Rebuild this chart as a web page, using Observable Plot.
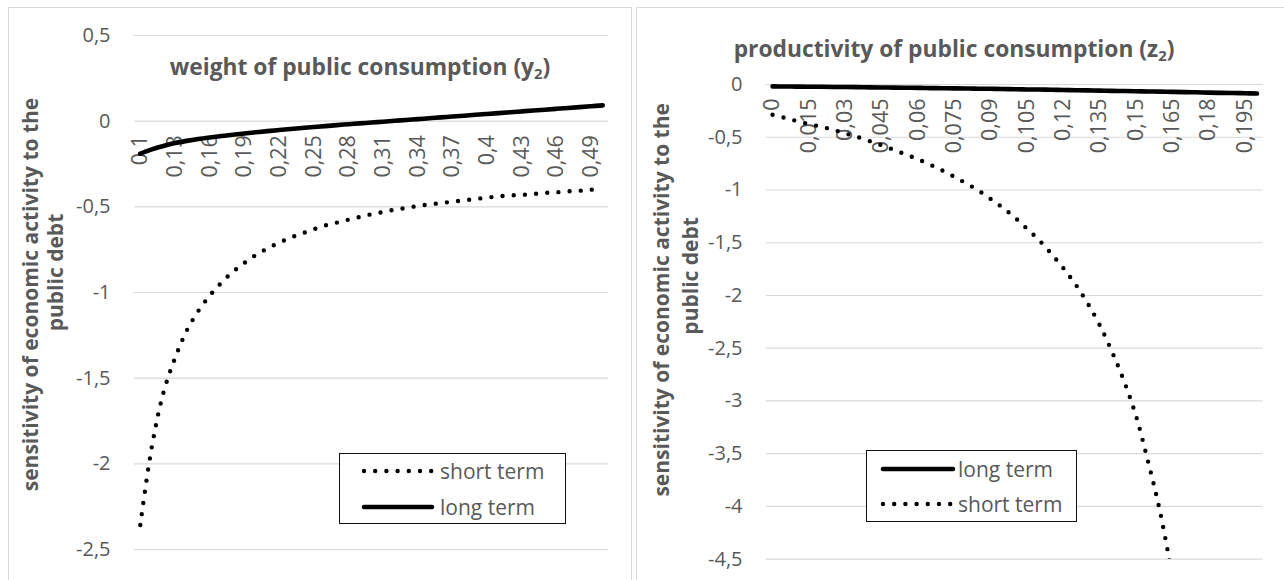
<!DOCTYPE html>
<html><head><meta charset="utf-8">
<script src="https://cdn.jsdelivr.net/npm/d3@7"></script>
<script src="https://cdn.jsdelivr.net/npm/@observablehq/plot@0.6"></script>
<style>
body{margin:0;background:#fff;font-family:"Open Sans",sans-serif;}
#root{position:relative;width:1284px;height:580px;overflow:hidden;background:#fff}
.box{position:absolute;border:1px solid #d9d9d9;box-sizing:border-box}
.title{position:absolute;font-weight:bold;font-size:22.8px;line-height:28px;color:#595959;white-space:nowrap;transform:translateX(-50%)}
.title sub{font-size:0.65em;vertical-align:-0.3em;line-height:0}
.legend{position:absolute;border:1.3px solid #111;background:#fff;box-sizing:border-box}
.legend svg{position:absolute;left:0;top:0;overflow:visible}
.panel{position:absolute;top:0}
</style></head><body><div id="root"></div>
<script>
// ---------- data ----------
const xLeft = [0.10,0.11,0.12,0.13,0.14,0.15,0.16,0.17,0.18,0.19,0.20,0.21,0.22,0.23,0.24,0.25,0.26,0.27,0.28,0.29,0.30,0.31,0.32,0.33,0.34,0.35,0.36,0.37,0.38,0.39,0.40,0.41,0.42,0.43,0.44,0.45,0.46,0.47,0.48,0.49,0.50];
const shortLeft = [-2.357,-1.90,-1.585,-1.384,-1.225,-1.11,-1.019,-0.944,-0.88,-0.828,-0.781,-0.743,-0.709,-0.680,-0.655,-0.631,-0.609,-0.592,-0.575,-0.559,-0.543,-0.530,-0.517,-0.506,-0.495,-0.486,-0.478,-0.470,-0.462,-0.454,-0.446,-0.439,-0.434,-0.430,-0.425,-0.419,-0.415,-0.410,-0.406,-0.400,-0.396];
const longLeft = [-0.19,-0.165,-0.145,-0.128,-0.115,-0.104,-0.095,-0.087,-0.079,-0.072,-0.065,-0.058,-0.052,-0.046,-0.040,-0.034,-0.029,-0.023,-0.018,-0.013,-0.008,-0.003,0.002,0.007,0.012,0.017,0.022,0.027,0.032,0.037,0.042,0.047,0.052,0.057,0.062,0.067,0.072,0.077,0.082,0.087,0.092];
const leftTickValues = [0.10,0.13,0.16,0.19,0.22,0.25,0.28,0.31,0.34,0.37,0.40,0.43,0.46,0.49];
const leftTickLabels = ["0,1","0,13","0,16","0,19","0,22","0,25","0,28","0,31","0,34","0,37","0,4","0,43","0,46","0,49"];
const leftYTicks = [0.5,0,-0.5,-1,-1.5,-2,-2.5];

const xRight = [0,0.005,0.01,0.015,0.02,0.025,0.03,0.035,0.04,0.045,0.05,0.055,0.06,0.065,0.07,0.075,0.08,0.085,0.09,0.095,0.10,0.105,0.11,0.115,0.12,0.125,0.13,0.135,0.14,0.145,0.15,0.155,0.16,0.165,0.17,0.175,0.18,0.185,0.19,0.195,0.20];
const shortRight = [-0.287,-0.316,-0.346,-0.375,-0.400,-0.429,-0.464,-0.497,-0.536,-0.576,-0.618,-0.663,-0.708,-0.759,-0.814,-0.874,-0.938,-1.005,-1.084,-1.167,-1.26,-1.366,-1.474,-1.602,-1.739,-1.892,-2.07,-2.277,-2.525,-2.805,-3.137,-3.57,-4.05,-4.65];
const longRight = [-0.018,-0.019,-0.020,-0.021,-0.022,-0.023,-0.024,-0.025,-0.027,-0.028,-0.030,-0.031,-0.032,-0.034,-0.035,-0.037,-0.038,-0.040,-0.041,-0.043,-0.045,-0.047,-0.048,-0.050,-0.052,-0.054,-0.056,-0.058,-0.060,-0.062,-0.064,-0.066,-0.068,-0.070,-0.072,-0.074,-0.077,-0.079,-0.081,-0.083,-0.086];
const rightTickValues = [0,0.015,0.03,0.045,0.06,0.075,0.09,0.105,0.12,0.135,0.15,0.165,0.18,0.195];
const rightTickLabels = ["0","0,015","0,03","0,045","0,06","0,075","0,09","0,105","0,12","0,135","0,15","0,165","0,18","0,195"];
const rightYTicks = [0,-0.5,-1,-1.5,-2,-2.5,-3,-3.5,-4,-4.5];

const yTitle1 = "sensitivity of economic activity to the";
const yTitle2 = "public debt";
const seriesNames = {short: "short term", long: "long term"};

// ---------- helpers ----------
const GRAY = "#595959";
const fmt = d => String(d).replace(".", ",");
const rows = (xs, vals) => vals.map((v, i) => ({x: xs[i], y: v}));

function panel({xs, shortV, longV, tickVals, tickLabels, yTicks, yDomain, width, height, mL, mR, mT, mB, t1, t2}) {
  return Plot.plot({
    width, height, marginLeft: mL, marginRight: mR, marginTop: mT, marginBottom: mB,
    x: {type: "point", domain: xs, padding: 0.5, align: 0.5, round: false, axis: null},
    y: {domain: yDomain},
    style: {background: "transparent", fontFamily: "Open Sans", overflow: "visible"},
    marks: [
      Plot.ruleY(yTicks, {stroke: "#d9d9d9", strokeWidth: 1.2}),
      Plot.axisY({ticks: yTicks, tickSize: 0, tickPadding: 24, tickFormat: fmt, fontSize: 20, color: GRAY, label: null}),
      Plot.text(tickVals, {x: d => d, y: () => 0, text: (d, i) => tickLabels[i], rotate: -90, textAnchor: "end", dy: 14, fontSize: 21.5, fill: GRAY}),
      Plot.text([yTitle1], {text: d => d, frameAnchor: "middle", rotate: -90, dx: t1[0], dy: t1[1], fontSize: 21, fontWeight: "bold", fill: GRAY}),
      Plot.text([yTitle2], {text: d => d, frameAnchor: "middle", rotate: -90, dx: t2[0], dy: t2[1], fontSize: 21, fontWeight: "bold", fill: GRAY}),
      Plot.line(rows(xs, longV), {x: "x", y: "y", stroke: "#000", strokeWidth: 4.6, strokeLinecap: "round", curve: "catmull-rom", clip: true}),
      Plot.line(rows(xs, shortV), {x: "x", y: "y", stroke: "#000", strokeWidth: 4.4, strokeDasharray: "0 11.2", strokeLinecap: "round", curve: "catmull-rom", clip: true})
    ]
  });
}

const root = document.getElementById("root");
function add(html){ const d = document.createElement("div"); d.innerHTML = html; while (d.firstChild) root.appendChild(d.firstChild); }

add(`<div class="box" style="left:8px;top:7px;width:624px;height:600px"></div>`);
add(`<div class="box" style="left:636px;top:7px;width:660px;height:600px"></div>`);

const left = panel({xs: xLeft, shortV: shortLeft, longV: longLeft, tickVals: leftTickValues, tickLabels: leftTickLabels,
  yTicks: leftYTicks, yDomain: [-2.5, 0.5], width: 632, height: 580, mL: 134, mR: 24, mT: 35, mB: 31,
  t1: [-340, 2], t2: [-315, -20]});
const lp = document.createElement("div"); lp.className = "panel"; lp.style.left = "0px"; lp.appendChild(left); root.appendChild(lp);

const right = panel({xs: xRight, shortV: shortRight, longV: longRight, tickVals: rightTickValues, tickLabels: rightTickLabels,
  yTicks: rightYTicks, yDomain: [-4.5, 0], width: 648, height: 580, mL: 130, mR: 21.5, mT: 84, mB: 21.3,
  t1: [-352, -22], t2: [-323, -46]});
const rp = document.createElement("div"); rp.className = "panel"; rp.style.left = "636px"; rp.appendChild(right); root.appendChild(rp);

add(`<div class="title" style="left:360px;top:53px">weight of public consumption (y<sub>2</sub>)</div>`);
add(`<div class="title" style="left:954px;top:35px">productivity of public consumption (z<sub>2</sub>)</div>`);

function legend(left, top, w, h, entries) {
  let s = `<div class="legend" style="left:${left}px;top:${top}px;width:${w}px;height:${h}px"><svg width="${w}" height="${h}">`;
  for (const e of entries) {
    if (e.dotted) s += `<line x1="${e.x1}" x2="${e.x2}" y1="${e.y}" y2="${e.y}" stroke="#000" stroke-width="4.4" stroke-linecap="round" stroke-dasharray="0 11.2"/>`;
    else s += `<line x1="${e.x1}" x2="${e.x2}" y1="${e.y}" y2="${e.y}" stroke="#000" stroke-width="4.6" stroke-linecap="round"/>`;
    s += `<text x="${e.tx}" y="${e.y}" dy="0.36em" font-family="Open Sans" font-size="21" fill="${GRAY}">${e.label}</text>`;
  }
  s += `</svg></div>`;
  add(s);
}
legend(339, 453, 227, 71, [
  {dotted: true, x1: 24, x2: 92, y: 17, tx: 100, label: seriesNames.short},
  {dotted: false, x1: 24, x2: 92, y: 53, tx: 100, label: seriesNames.long}
]);
legend(866, 450, 211, 72, [
  {dotted: false, x1: 16, x2: 86, y: 18, tx: 91, label: seriesNames.long},
  {dotted: true, x1: 16, x2: 86, y: 53, tx: 91, label: seriesNames.short}
]);
</script></body></html>
